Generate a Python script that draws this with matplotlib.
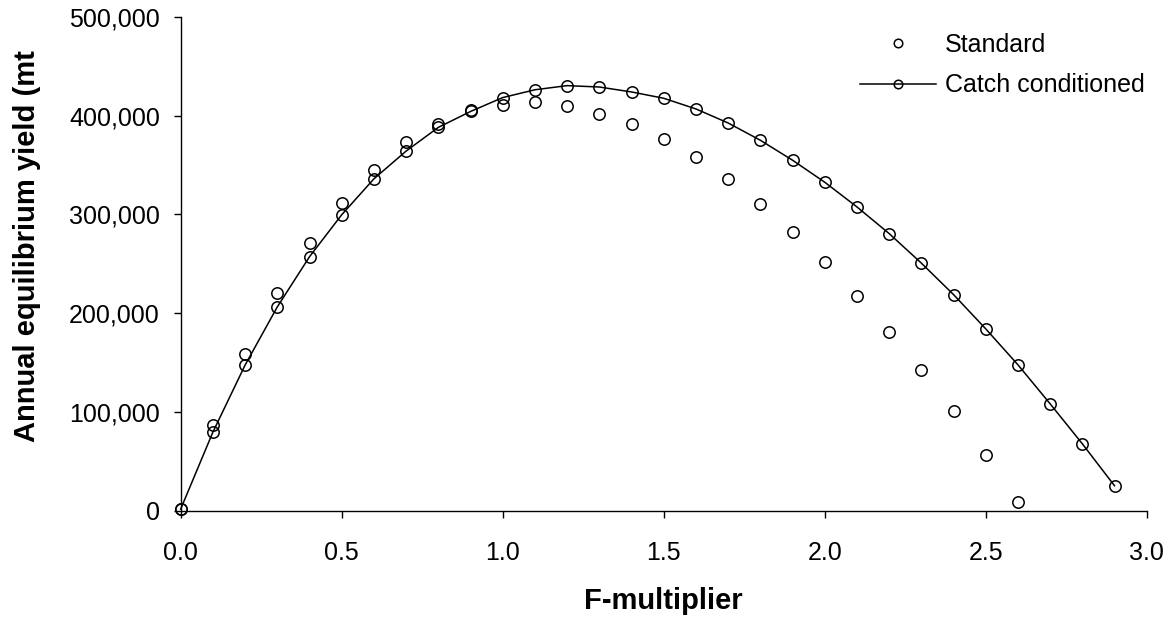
import matplotlib
matplotlib.use("Agg")
import matplotlib.pyplot as plt
from matplotlib.ticker import FuncFormatter, MultipleLocator

plt.rcParams['font.family'] = ['Liberation Sans', 'DejaVu Sans']

f_std = [0.0, 0.1, 0.2, 0.3, 0.4, 0.5, 0.6, 0.7, 0.8, 0.9, 1.0, 1.1, 1.2, 1.3,
         1.4, 1.5, 1.6, 1.7, 1.8, 1.9, 2.0, 2.1, 2.2, 2.3, 2.4, 2.5, 2.6]
yield_std = [1700, 86400, 159100, 220900, 270900, 312100, 345300, 373100, 392000,
             405700, 410500, 413900, 410200, 402100, 391400, 376800, 358000,
             336000, 310700, 282400, 252300, 217400, 181400, 142000, 100500,
             56700, 9100]

f_cc = [0.0, 0.1, 0.2, 0.3, 0.4, 0.5, 0.6, 0.7, 0.8, 0.9, 1.0, 1.1, 1.2, 1.3,
        1.4, 1.5, 1.6, 1.7, 1.8, 1.9, 2.0, 2.1, 2.2, 2.3, 2.4, 2.5, 2.6, 2.7,
        2.8, 2.9]
yield_cc = [1700, 79600, 147500, 206400, 257200, 299700, 336100, 364200, 388200,
            404300, 418400, 426300, 430500, 429100, 424100, 417700, 406900,
            392700, 375200, 355000, 332700, 307700, 280700, 250800, 218900,
            184200, 147800, 108300, 67800, 25300]

labels = ["Standard", "Catch conditioned"]
x_label = "F-multiplier"
y_label = "Annual equilibrium yield (mt"

fig = plt.figure(figsize=(11.76, 6.26), dpi=100)
ax = fig.add_axes([180.7 / 1176, 1 - 510.7 / 626, (1146.7 - 180.7) / 1176, (510.7 - 17.0) / 626])

ms = 8.2
mew = 1.1
ax.plot(f_std, yield_std, linestyle='none', marker='o', markersize=ms,
        markerfacecolor='none', markeredgecolor='black', markeredgewidth=mew,
        clip_on=False, label=labels[0], zorder=3)
ax.plot(f_cc, yield_cc, linestyle='-', color='black', linewidth=1.1, marker='o',
        markersize=ms, markerfacecolor='none', markeredgecolor='black',
        markeredgewidth=mew, clip_on=False, label=labels[1], zorder=3)

ax.set_xlim(0, 3.0)
ax.set_ylim(0, 500000)
ax.xaxis.set_major_locator(MultipleLocator(0.5))
ax.yaxis.set_major_locator(MultipleLocator(100000))
ax.xaxis.set_major_formatter(FuncFormatter(lambda v, p: f"{v:.1f}"))
ax.yaxis.set_major_formatter(FuncFormatter(lambda v, p: f"{v:,.0f}"))

for s in ['top', 'right']:
    ax.spines[s].set_visible(False)
for s in ['left', 'bottom']:
    ax.spines[s].set_linewidth(1.0)
    ax.spines[s].set_color('black')

ax.tick_params(axis='both', direction='out', length=5, width=1.0, colors='black',
               labelsize=18)
ax.tick_params(axis='y', pad=10)
ax.tick_params(axis='x', pad=16.5)

fig.text(663.7 / 1176, 1 - 601 / 626, x_label, ha='center', va='center',
         fontsize=21, fontweight='bold')
fig.text(27 / 1176, 1 - 246 / 626, y_label, ha='center', va='center',
         rotation=90, fontsize=21, fontweight='bold')

leg = ax.legend(loc='upper left', bbox_to_anchor=(860 / 1176, 1 - 33 / 626),
                bbox_transform=fig.transFigure, frameon=False, fontsize=18,
                handlelength=3.05, handletextpad=0.35, labelspacing=0.65,
                borderpad=0, borderaxespad=0, markerscale=0.75)

fig.savefig("out.png", dpi=100)
